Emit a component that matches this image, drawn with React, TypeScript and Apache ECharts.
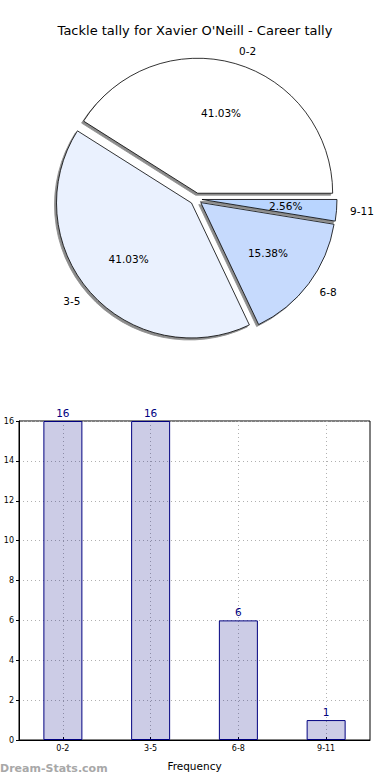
import React, { useEffect, useRef } from "react";
import * as echarts from "echarts";

const titleText = "Tackle tally for Xavier O'Neill - Career tally";
const categories = ["0-2", "3-5", "6-8", "9-11"];
const tallies = [16, 16, 6, 1];
const pieColors = ["#ffffff", "#eaf1fe", "#c6dafd", "#b9d5ff"];
const yMin = 0;
const yMax = 16;
const yInterval = 2;
const xAxisName = "Frequency";
const yAxisName = "Tackle Tally";
const watermark = "Dream-Stats.com";

const FONT = "'DejaVu Sans', sans-serif";

export default function App() {
  const ref = useRef<HTMLDivElement>(null);

  useEffect(() => {
    if (!ref.current) return;
    const chart = echarts.init(ref.current, undefined, { renderer: "svg" });

    const pieCenter = [196, 199];
    const R = 135;
    const offset = 6;

    const mainData = categories.map((c, i) => ({
      name: c,
      value: tallies[i],
      selected: true,
      itemStyle: { color: pieColors[i] },
      select: { itemStyle: { color: pieColors[i], borderColor: "#000", borderWidth: 0.8 } },
    }));
    const pctData = categories.map((c, i) => ({
      name: c,
      value: tallies[i],
      selected: true,
    }));

    chart.setOption({
      animation: false,
      textStyle: { fontFamily: FONT },
      title: {
        text: titleText,
        left: "center",
        top: 19,
        textStyle: { fontSize: 13, fontWeight: "normal", color: "#000", fontFamily: FONT },
      },
      grid: {
        left: 19,
        right: 20,
        top: 421,
        bottom: 40,
        containLabel: false,
        outerBoundsMode: "none",
        show: true,
        borderColor: "#000",
        borderWidth: 1,
        backgroundColor: "transparent",
      },
      xAxis: {
        type: "category",
        data: categories,
        name: xAxisName,
        nameLocation: "middle",
        nameGap: 20,
        nameTextStyle: { fontSize: 10.5, color: "#000", fontFamily: FONT },
        axisLine: { lineStyle: { color: "#000", width: 1 } },
        axisTick: { show: true, alignWithLabel: true, length: 3, inside: true, lineStyle: { color: "#000" } },
        axisLabel: { fontSize: 8, color: "#000", margin: 4, fontFamily: FONT },
        splitLine: {
          show: true,
          alignWithLabel: true,
          lineStyle: { color: "#b0b0b0", type: [1, 3], width: 1 },
        },
      },
      yAxis: {
        type: "value",
        min: yMin,
        max: yMax,
        interval: yInterval,
        name: yAxisName,
        nameLocation: "middle",
        nameRotate: 90,
        nameGap: 20,
        nameTextStyle: { fontSize: 10.5, color: "#000", fontFamily: FONT },
        axisLine: { show: true, lineStyle: { color: "#000", width: 1 } },
        axisTick: { show: true, length: 3, inside: false, lineStyle: { color: "#000" } },
        axisLabel: { fontSize: 8, color: "#000", margin: 5, fontFamily: FONT },
        splitLine: {
          show: true,
          lineStyle: { color: "#b0b0b0", type: [1, 3], width: 1 },
        },
      },
      series: [
        {
          type: "bar",
          data: tallies,
          barWidth: 39,
          itemStyle: {
            color: "rgba(0,0,128,0.2)",
            borderColor: "#000080",
            borderWidth: 1,
          },
          label: {
            show: true,
            position: "top",
            distance: 3,
            color: "#000080",
            fontSize: 10.5,
            fontFamily: FONT,
          },
          silent: true,
        },
        {
          type: "pie",
          center: pieCenter,
          radius: R,
          startAngle: 0,
          clockwise: false,
          selectedMode: "multiple",
          selectedOffset: offset,
          avoidLabelOverlap: false,
          silent: true,
          emphasis: { disabled: true },
          itemStyle: {
            borderColor: "#000",
            borderWidth: 0.8,
            shadowColor: "rgba(0,0,0,0.45)",
            shadowBlur: 0.5,
            shadowOffsetX: -2,
            shadowOffsetY: 2,
          },
          label: {
            show: true,
            position: "outside",
            formatter: "{b}",
            fontSize: 10.5,
            color: "#000",
            fontFamily: FONT,
            distanceToLabelLine: 0,
          },
          labelLine: { show: false, length: 13.5, length2: 0 },
          data: mainData,
        },
        {
          type: "pie",
          center: pieCenter,
          radius: R * 1.2,
          startAngle: 0,
          clockwise: false,
          selectedMode: "multiple",
          selectedOffset: offset,
          avoidLabelOverlap: false,
          silent: true,
          emphasis: { disabled: true },
          itemStyle: { color: "rgba(0,0,0,0)", borderWidth: 0 },
          select: { itemStyle: { color: "rgba(0,0,0,0)", borderWidth: 0 } },
          label: {
            show: true,
            position: "inside",
            formatter: "{d}%",
            fontSize: 10.5,
            color: "#000",
            fontFamily: FONT,
          },
          labelLine: { show: false },
          data: pctData,
        },
      ],
      graphic: [
        {
          type: "text",
          left: 0,
          top: 763,
          style: {
            text: watermark,
            fontSize: 11,
            fontWeight: 600,
            fill: "#a8a8a8",
            fontFamily: FONT,
          },
        },
      ],
    });

    return () => chart.dispose();
  }, []);

  return (
    <div
      ref={ref}
      style={{ position: "fixed", left: 0, top: 0, width: 390, height: 780, background: "#fff" }}
    />
  );
}
